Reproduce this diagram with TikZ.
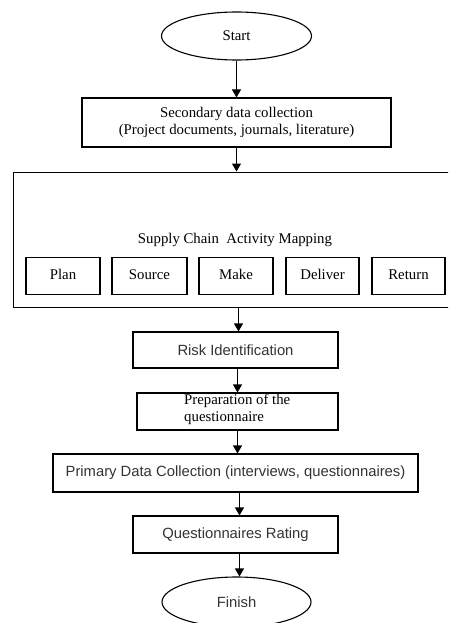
\documentclass[tikz,border=0pt]{standalone}
\usepackage{fontspec}
\setmainfont{Liberation Serif}
\setsansfont{Liberation Sans}
\usetikzlibrary{arrows.meta,shapes.geometric}
\begin{document}
\begin{tikzpicture}[x=1pt,y=-1pt,
  every node/.style={font=\fontsize{14.8}{17}\selectfont, inner sep=0pt},
  boxs/.style={draw=black, line width=1.1pt, rectangle, align=center},
  smallbox/.style={boxs, text height=10pt, text depth=3pt, minimum height=37.5},
  ovals/.style={draw=black, line width=1.1pt, ellipse},
  sanst/.style={font=\fontsize{14.8}{17}\selectfont\sffamily, text=black!80},
  arr/.style={draw=black, line width=1.1pt, -{Triangle[length=8pt,width=9pt]}}
]
\useasboundingbox (0,0) rectangle (448,623);
\clip (0,0) rectangle (448,623);

\node[ovals, minimum width=150, minimum height=48] (start) at (236.5,36) {Start};
\node[boxs, minimum width=309, minimum height=49] (sec) at (236.5,122.5)
  {Secondary data collection\\(Project documents, journals, literature)};
\node[boxs, minimum width=460, minimum height=135, anchor=north west] (map) at (13,171.5) {};
\node (maplabel) at (235,240) {Supply Chain\ \ Activity Mapping};
\node[smallbox, minimum width=74] (plan) at (63,276) {Plan};
\node[smallbox, minimum width=75] (source) at (149.5,276) {Source};
\node[smallbox, minimum width=74] (make) at (236,276) {Make};
\node[smallbox, minimum width=73] (deliver) at (322.5,276) {Deliver};
\node[smallbox, minimum width=73] (return) at (408.5,276) {Return};

\node[boxs, sanst, minimum width=205, minimum height=36] (risk) at (235.5,350) {Risk Identification};
\node[boxs, minimum width=201, minimum height=37] (prep) at (237.5,411.5) {};
\node[align=left, anchor=north west] (preptext) at (184,394) {Preparation of the\\questionnaire};
\node[boxs, sanst, minimum width=365, minimum height=38] (prim) at (235.5,473)
  {Primary Data Collection (interviews, questionnaires)};
\node[boxs, sanst, minimum width=205, minimum height=37] (qr) at (235.5,534.5) {Questionnaires Rating};
\node[ovals, sanst, minimum width=149, minimum height=50] (fin) at (236.5,602) {Finish};

\draw[arr] (start.south) -- (start.south |- sec.north);
\draw[arr] (sec.south) -- (sec.south |- map.north);
\draw[arr] ([xshift=2pt]sec.south |- map.south) -- ([xshift=2pt]sec.south |- risk.north);
\draw[arr] ([xshift=2pt]risk.south) -- ([xshift=2pt]risk.south |- prep.north);
\draw[arr] (prep.south) -- (prep.south |- prim.north);
\draw[arr] ([xshift=4pt]prim.south) -- ([xshift=4pt]prim.south |- qr.north);
\draw[arr] ([xshift=4pt]qr.south) -- ([xshift=4pt]qr.south |- fin.north);
\end{tikzpicture}
\end{document}
